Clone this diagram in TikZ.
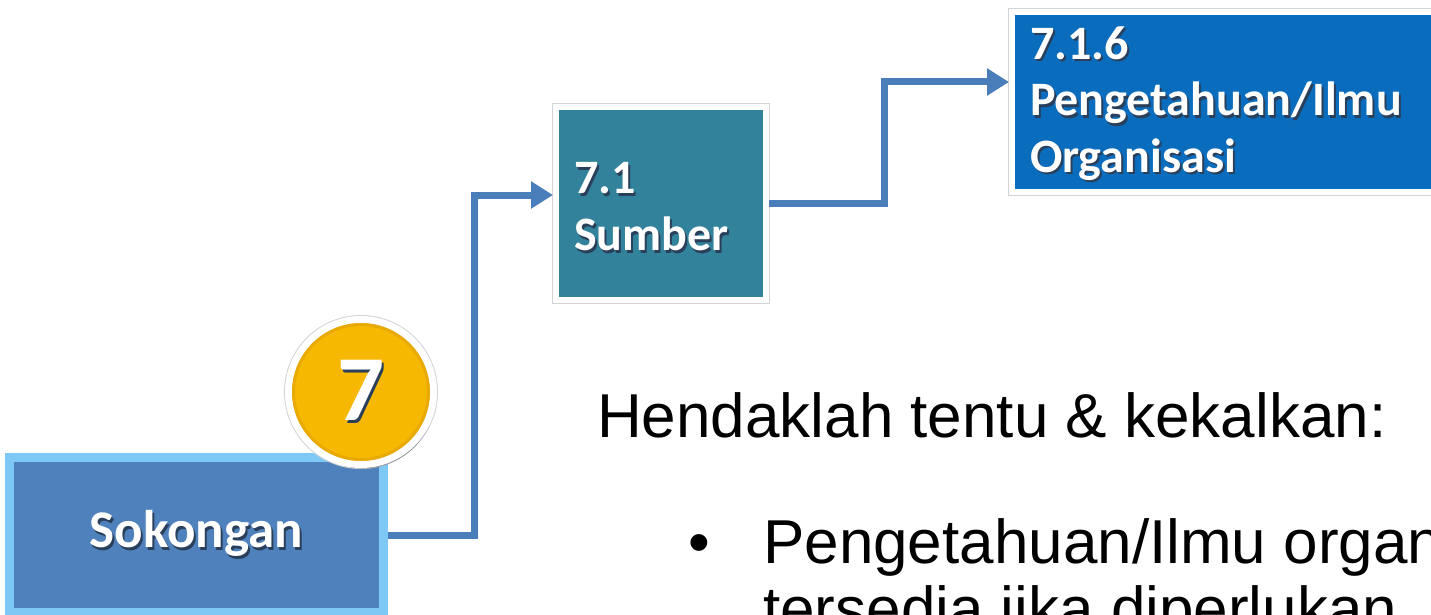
\documentclass[tikz,border=0pt]{standalone}
\usepackage{fontspec}
\setmainfont{Carlito}
\newfontfamily\handfont{Liberation Sans}
\usetikzlibrary{arrows.meta,shadows}
\definecolor{arrowblue}{HTML}{4A7EBB}
\definecolor{sokfill}{HTML}{4F81BD}
\definecolor{sokedge}{HTML}{7EC8F6}
\definecolor{tealfill}{HTML}{31829A}
\definecolor{darkblue}{HTML}{0A6CBC}
\definecolor{gold}{HTML}{F6B800}
\definecolor{darkgold}{HTML}{DFA000}
\definecolor{rimgray}{HTML}{D4D4D4}
\definecolor{txtshadow}{HTML}{2A3F5A}
\newcommand\shtext[1]{\leavevmode\rlap{\hspace{2pt}\raisebox{-2.5pt}{\textcolor{txtshadow}{#1}}}#1}
\tikzset{
  boxshadow/.style={drop shadow={shadow xshift=3pt,shadow yshift=-4pt,opacity=0.3,fill=black}},
  labeltext/.style={text=white,font=\bfseries},
  framedbox/.style={boxshadow,preaction={draw=rimgray,line width=8pt},draw=white,line width=6pt,labeltext},
  connector/.style={draw=arrowblue,line width=7pt,-{Triangle[length=22pt,width=26pt]}},
  handtext/.style={font=\handfont\fontsize{62}{64}\selectfont,inner sep=0pt,anchor=base west}
}
\begin{document}
\begin{tikzpicture}[x=1pt,y=-1pt]
\useasboundingbox (0,0) rectangle (1431,615);
\clip (0,0) rectangle (1431,615);

% Sokongan box
\node[boxshadow,fill=sokfill,draw=sokedge,line width=9pt,labeltext,
      minimum width=374pt,minimum height=155pt,inner sep=0pt,
      font=\bfseries\fontsize{53}{64}\selectfont] (sok) at (196.5,535) {\shtext{Sokongan}};

% 7.1 Sumber box
\node[framedbox,fill=tealfill,minimum height=193pt,text width=174pt,inner xsep=18pt,inner ysep=0pt,
      align=left,font=\bfseries\fontsize{48}{57}\selectfont] (sum) at (661,203.5) {\rule{0pt}{40pt}\shtext{7.1}\\\shtext{Sumber}};

% 7.1.6 box
\node[framedbox,fill=darkblue,minimum height=180pt,text width=392pt,inner xsep=18pt,inner ysep=0pt,
      align=left,font=\bfseries\fontsize{48}{56.5}\selectfont] (ilmu) at (1226,102) {\rule{0pt}{38pt}\shtext{7.1.6}\\\shtext{Pengetahuan/Ilmu}\\\shtext{Organisasi}};

% badge 7
\node[circle,fill=gold,preaction={draw=rimgray,line width=9pt},draw=white,line width=7pt,minimum size=145pt,inner sep=0pt,
      drop shadow={shadow xshift=2pt,shadow yshift=-4pt,opacity=0.3,fill=black},
      labeltext,font=\bfseries\fontsize{93}{100}\selectfont] (seven) at (361,392) {\shtext{7}};
\draw[darkgold,line width=3pt,opacity=0.6] (seven.center) circle[radius=67.5pt];

% connectors
\draw[connector] (sok.east) -- (474,535) |- ([yshift=8.5pt]sum.west);
\draw[connector] (sum.east) -- (884,203.5) |- ([yshift=20pt]ilmu.west);

% text
\node[handtext] (hdr) at (597,437) {Hendaklah tentu \& kekalkan:};
\node[handtext] (bul) at (688,563) {\textbullet};
\node[handtext] (item) at (763,563) {Pengetahuan/Ilmu organisasi};
\node[handtext] (item2) at (763,630) {tersedia jika diperlukan};
\end{tikzpicture}
\end{document}
